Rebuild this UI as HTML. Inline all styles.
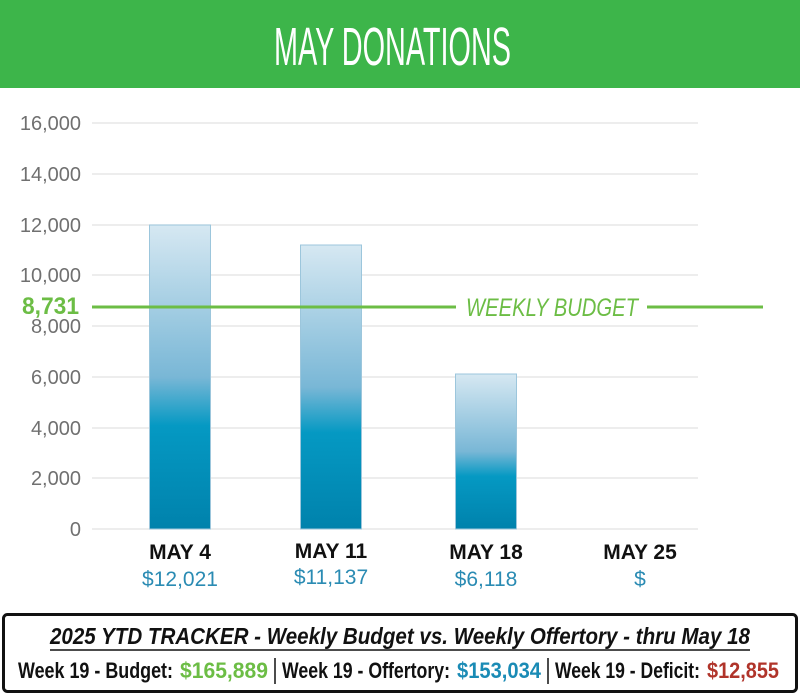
<!DOCTYPE html>
<html><head><meta charset="utf-8"><style>
html,body{margin:0;padding:0;background:#fff;}
svg{display:block;}
text{font-family:"Liberation Sans Narrow","Liberation Sans",sans-serif;}
</style></head><body>
<svg width="800" height="695" viewBox="0 0 800 695" xmlns="http://www.w3.org/2000/svg">
<defs>
<linearGradient id="g" x1="0" y1="0" x2="0" y2="1">
<stop offset="0" stop-color="#d6e8f2"/>
<stop offset="0.5" stop-color="#79b7d6"/>
<stop offset="0.66" stop-color="#0599c3"/>
<stop offset="1" stop-color="#0082ac"/>
</linearGradient>
</defs>
<rect x="0" y="0" width="800" height="88" fill="#3db54a"/>
<text x="274" y="65" fill="#fff" font-size="54" textLength="237" lengthAdjust="spacingAndGlyphs">MAY DONATIONS</text>
<g stroke="#e2e2e2" stroke-width="1.2">
<line x1="92" y1="123" x2="698" y2="123"/>
<line x1="92" y1="174" x2="698" y2="174"/>
<line x1="92" y1="225" x2="698" y2="225"/>
<line x1="92" y1="275" x2="698" y2="275"/>
<line x1="92" y1="326" x2="698" y2="326"/>
<line x1="92" y1="377" x2="698" y2="377"/>
<line x1="92" y1="428" x2="698" y2="428"/>
<line x1="92" y1="478" x2="698" y2="478"/>
<line x1="92" y1="529" x2="698" y2="529"/>
</g>
<g fill="#707070" font-size="20" text-anchor="end" style="font-family:'Liberation Sans',sans-serif">
<text x="81" y="130">16,000</text>
<text x="81" y="181">14,000</text>
<text x="81" y="232">12,000</text>
<text x="81" y="282">10,000</text>
<text x="81" y="333">8,000</text>
<text x="81" y="384">6,000</text>
<text x="81" y="435">4,000</text>
<text x="81" y="485">2,000</text>
<text x="81" y="536">0</text>
</g>
<rect x="149.5" y="225" width="61" height="304" fill="url(#g)" stroke="#9cc6dc" stroke-width="1"/>
<rect x="300.5" y="245" width="61" height="284" fill="url(#g)" stroke="#9cc6dc" stroke-width="1"/>
<rect x="455.5" y="374" width="61" height="155" fill="url(#g)" stroke="#9cc6dc" stroke-width="1"/>
<g stroke="#6cbd45" stroke-width="3">
<line x1="92" y1="307" x2="456" y2="307"/>
<line x1="647" y1="307" x2="763" y2="307"/>
</g>
<text x="22" y="314" fill="#6cbd45" font-size="24" font-weight="bold" style="font-family:'Liberation Sans',sans-serif" textLength="57" lengthAdjust="spacingAndGlyphs">8,731</text>
<text x="466" y="316" fill="#6cbd45" font-size="25" font-style="italic" textLength="172" lengthAdjust="spacingAndGlyphs">WEEKLY BUDGET</text>
<g font-size="21" font-weight="bold" fill="#111" text-anchor="middle">
<text x="180" y="559">MAY 4</text>
<text x="331" y="558">MAY 11</text>
<text x="486" y="559">MAY 18</text>
<text x="640" y="559">MAY 25</text>
</g>
<g font-size="21" fill="#2a8bb3" text-anchor="middle">
<text x="180" y="586">$12,021</text>
<text x="331" y="584">$11,137</text>
<text x="486" y="586">$6,118</text>
<text x="640" y="586">$</text>
</g>
<rect x="3.5" y="614.5" width="793" height="77" rx="4" fill="#fff" stroke="#111" stroke-width="3"/>
<text x="50" y="644" font-size="23" font-weight="bold" font-style="italic" fill="#111" textLength="700" lengthAdjust="spacingAndGlyphs">2025 YTD TRACKER  -  Weekly Budget  vs. Weekly Offertory  -  thru May 18</text>
<line x1="50" y1="650" x2="750" y2="650" stroke="#111" stroke-width="1.5"/>
<g font-size="22" font-weight="bold">
<text x="18" y="678" fill="#111" textLength="155" lengthAdjust="spacingAndGlyphs">Week 19 - Budget:</text>
<text x="180" y="678" fill="#6cbd45" textLength="88" lengthAdjust="spacingAndGlyphs">$165,889</text>
<line x1="275" y1="658" x2="275" y2="684" stroke="#111" stroke-width="1.5"/>
<text x="282" y="678" fill="#111" textLength="168" lengthAdjust="spacingAndGlyphs">Week 19 - Offertory:</text>
<text x="457" y="678" fill="#1a8bb5" textLength="84" lengthAdjust="spacingAndGlyphs">$153,034</text>
<line x1="548" y1="658" x2="548" y2="684" stroke="#111" stroke-width="1.5"/>
<text x="555" y="678" fill="#111" textLength="145" lengthAdjust="spacingAndGlyphs">Week 19 - Deficit:</text>
<text x="707" y="678" fill="#b0342a" textLength="72" lengthAdjust="spacingAndGlyphs">$12,855</text>
</g>
</svg>
</body></html>
